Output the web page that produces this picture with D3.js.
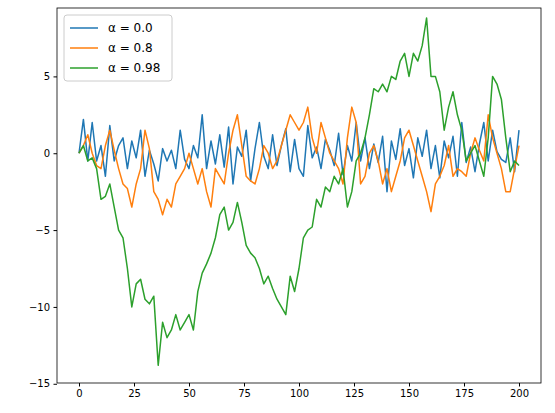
<!DOCTYPE html>
<html><head><meta charset="utf-8">
<script src="https://cdn.jsdelivr.net/npm/d3@7"></script>
<style>body{margin:0;background:#fff}text{font-family:"DejaVu Sans",sans-serif}</style>
</head><body>
<svg id="chart" width="555" height="413"></svg>
<script>
var labels = ["\u03b1 = 0.0", "\u03b1 = 0.8", "\u03b1 = 0.98"];
var colors = ["#1f77b4", "#ff7f0e", "#2ca02c"];
var blue = [0,2.2,-0.5,2,-0.5,0.5,-1.5,1.8,-0.5,0.5,1,-1,0.8,-0.3,1.5,-1.5,0.2,-0.7,-1.8,0.3,-0.5,0.2,-1,1.5,-0.4,-1,0.5,-0.3,2.5,-1,0.8,-0.7,1.2,-0.9,1.7,-2,0.4,-0.2,1.5,-1.8,0.3,2,-0.2,-1,1.2,-0.8,0.5,1.6,-1.2,0.9,-1,-1.5,1.8,-0.3,0.4,-1,0.9,0.2,-0.8,1.3,-1.4,0.5,-0.5,2,-0.5,1,-1,0.6,-0.6,1.1,-2.5,0.8,-0.4,1.6,-0.8,0.3,-1.6,1,-0.2,1.5,-1,0.5,-1.6,0.8,-0.3,1.1,-1.5,2,-0.6,0.4,-1.2,0.6,2,-0.5,1.5,0.1,-0.4,-0.6,1,-1.2,1.5];
var orange = [0,0.5,1.2,0,-0.8,-1,0.5,1.5,0.2,-1,-2,-2.3,-3.5,-2,-1,1.5,0.3,-2.5,-3,-4,-3,-3.5,-2,-1.5,-1,0,-1,-2,-1,-2.5,-3.5,-1,-1.5,-2,0,1.5,2.5,0.5,-1.5,-1.8,-2,-1,0.5,0,-1,-0.5,0.5,1.5,2.5,2,1.5,2,3,1,0,2,1,0,-0.5,-1,-2,1,3,2,-2,-1.5,0,0.5,-0.5,-2,-1,-2.5,-1.5,-0.5,1,1.5,0.5,-0.5,-1.5,-2.5,-3.8,-2,-1.5,-0.8,0.5,-1.5,-1,-1.2,-1.5,0,1,0.2,-0.5,2.5,1,0,-1,-2.5,-2.5,-1,0.5];
var green = [0,0.5,-0.5,-0.3,-1,-3,-2.8,-2,-3.5,-5,-5.5,-7.5,-10,-8.5,-8.2,-9.5,-9.8,-9.3,-13.8,-11,-12,-11.5,-10.5,-11.5,-11,-10.5,-11.5,-9,-7.8,-7.2,-6.5,-5.5,-4,-3.5,-5,-4.5,-3.2,-4.5,-6,-6.5,-6.8,-7.5,-8.5,-8,-8.8,-9.5,-10,-10.5,-8,-9,-7.5,-5.5,-5,-4.8,-3,-3.5,-2.2,-2.5,-1.5,-2,-1,-3.5,-2.5,-0.5,0,1,2.5,4.2,4,4.5,4,5,4.8,6,6.5,5,6.5,6,7,8.8,5,5,4,1.5,3,4,2.5,1.5,-0.5,0,0.5,-0.5,-1.5,1,5,4.5,3.5,1,-1.2,-0.5,-0.8];
var xTicks = [0, 25, 50, 75, 100, 125, 150, 175, 200];
var yTicks = [-15, -10, -5, 0, 5];

var svg = d3.select("#chart");
var plotLeft = 57, plotRight = 541, plotTop = 8, plotBottom = 383;
var x = d3.scaleLinear().domain([-10, 210]).range([plotLeft, plotRight]);
var y = d3.scaleLinear().domain([-14.95, 9.45]).range([plotBottom, plotTop]);

var series = [blue, orange, green];
var line = d3.line()
  .x(function(d, i, arr) { return x(i * 200 / (arr.length - 1)); })
  .y(function(d) { return y(d); });

series.forEach(function(s, k) {
  svg.append("path").datum(s)
    .attr("d", line)
    .attr("fill", "none")
    .attr("stroke", colors[k])
    .attr("stroke-width", 1.5)
    .attr("stroke-linejoin", "round");
});

svg.append("g").attr("transform", "translate(0," + plotBottom + ")")
  .call(d3.axisBottom(x).tickValues(xTicks).tickSize(3.5).tickPadding(3.5))
  .call(function(g) { g.select(".domain").remove(); });
svg.append("g").attr("transform", "translate(" + plotLeft + ",0)")
  .call(d3.axisLeft(y).tickValues(yTicks).tickSize(3.5).tickPadding(3.5).tickFormat(d3.format("d")))
  .call(function(g) { g.select(".domain").remove(); });
svg.selectAll(".tick text").attr("font-size", 10).attr("fill", "#000")
  .attr("font-family", "DejaVu Sans");
svg.selectAll(".tick line").attr("stroke", "#000");

svg.append("rect").attr("x", plotLeft).attr("y", plotTop)
  .attr("width", plotRight - plotLeft).attr("height", plotBottom - plotTop)
  .attr("fill", "none").attr("stroke", "#000").attr("stroke-width", 0.8);

var lg = svg.append("g").attr("transform", "translate(64,15)");
lg.append("rect").attr("width", 108).attr("height", 66).attr("rx", 3)
  .attr("fill", "#fff").attr("fill-opacity", 0.8).attr("stroke", "#ccc");
labels.forEach(function(t, k) {
  var yy = 13 + k * 20;
  lg.append("line").attr("x1", 6).attr("x2", 34).attr("y1", yy).attr("y2", yy)
    .attr("stroke", colors[k]).attr("stroke-width", 1.5);
  lg.append("text").attr("x", 44).attr("y", yy + 4).attr("font-size", 12).text(t);
});
</script>
</body></html>
